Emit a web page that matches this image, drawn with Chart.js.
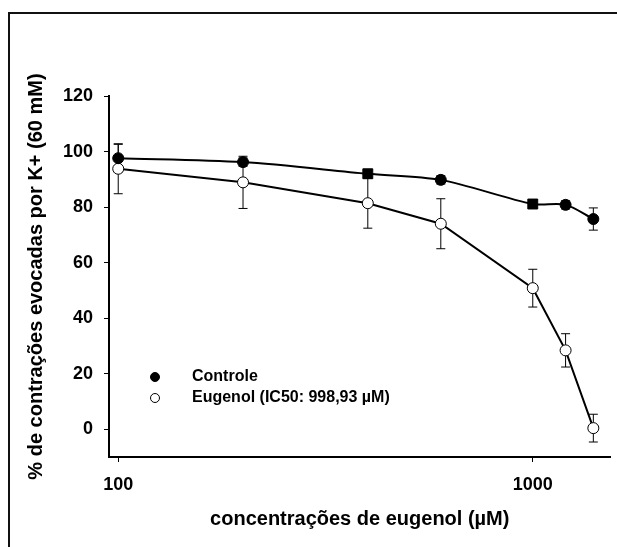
<!DOCTYPE html>
<html>
<head>
<meta charset="utf-8">
<script src="https://cdn.jsdelivr.net/npm/chart.js@4"></script>
<style>
  body { margin: 0; background: #fff; overflow: hidden; }
  #wrap { position: relative; width: 617px; height: 547px; }
  #frame { position: absolute; left: 8px; top: 12px; width: 700px; height: 700px;
           border-left: 2px solid #111; border-top: 2px solid #111; }
  canvas { position: absolute; left: 0; top: 0; }
</style>
</head>
<body>
<div id="wrap">
  <div id="frame"></div>
  <canvas id="chart" width="617" height="547"></canvas>
</div>
<script>
// concentrations (µM)
const concentrations = [100, 200, 400, 600, 1000, 1200, 1400];
const controle = [97.6, 96.2, 92, 89.8, 81.1, 80.8, 75.7];
const controleErr = [5, 1.5, 1.5, 1.5, 1.5, 1.5, 4];
const eugenol = [93.8, 88.9, 81.4, 74, 50.8, 28.4, 0.4];
const eugenolErr = [9, 9.4, 9, 9, 6.8, 6, 5];
const xTicks = [100, 1000];
const yTicks = [0, 20, 40, 60, 80, 100, 120];
const labels = ['Controle', 'Eugenol (IC50: 998,93 µM)'];

const FONT = "'Liberation Sans', Arial, sans-serif";

const errorBars = {
  id: 'errorBars',
  beforeDatasetsDraw(chart) {
    const ctx = chart.ctx;
    const y = chart.scales.y;
    const errs = [controleErr, eugenolErr];
    ctx.save();
    ctx.strokeStyle = '#000';
    ctx.lineWidth = 1;
    chart.data.datasets.forEach((ds, d) => {
      const meta = chart.getDatasetMeta(d);
      meta.data.forEach((pt, i) => {
        const v = ds.data[i].y;
        const top = y.getPixelForValue(v + errs[d][i]);
        const bot = y.getPixelForValue(v - errs[d][i]);
        ctx.beginPath();
        ctx.moveTo(pt.x, top); ctx.lineTo(pt.x, bot);
        ctx.moveTo(pt.x - 4.5, top); ctx.lineTo(pt.x + 4.5, top);
        ctx.moveTo(pt.x - 4.5, bot); ctx.lineTo(pt.x + 4.5, bot);
        ctx.stroke();
      });
    });
    ctx.restore();
  }
};

const legendBox = {
  id: 'legendBox',
  afterDraw(chart) {
    const ctx = chart.ctx;
    ctx.save();
    ctx.font = 'bold 16px ' + FONT;
    ctx.textBaseline = 'middle';
    ctx.fillStyle = '#000';
    const rows = [377, 398];
    rows.forEach((ry, i) => {
      ctx.beginPath();
      ctx.arc(155, ry, 4.5, 0, Math.PI * 2);
      ctx.fillStyle = i === 0 ? '#000' : '#fff';
      ctx.fill();
      ctx.lineWidth = 1;
      ctx.strokeStyle = '#000';
      ctx.stroke();
      ctx.fillStyle = '#000';
      ctx.fillText(labels[i], 192, ry);
    });
    ctx.restore();
  }
};

new Chart(document.getElementById('chart'), {
  type: 'line',
  data: {
    datasets: [
      {
        label: labels[0],
        data: concentrations.map((c, i) => ({ x: c, y: controle[i] })),
        borderColor: '#000',
        borderWidth: 2,
        tension: 0.3,
        pointStyle: ['circle', 'circle', 'rect', 'circle', 'rect', 'circle', 'circle'],
        pointRadius: [5.5, 5.5, 7, 5.5, 7, 5.5, 5.5],
        pointBackgroundColor: '#000',
        pointBorderColor: '#000',
        pointBorderWidth: 1
      },
      {
        label: labels[1],
        data: concentrations.map((c, i) => ({ x: c, y: eugenol[i] })),
        borderColor: '#000',
        borderWidth: 2,
        tension: 0,
        pointRadius: 5.5,
        pointBackgroundColor: '#fff',
        pointBorderColor: '#000',
        pointBorderWidth: 1
      }
    ]
  },
  options: {
    responsive: false,
    animation: false,
    devicePixelRatio: 1,
    layout: { padding: { top: 96, right: 4, left: 0, bottom: 0 } },
    plugins: { legend: { display: false }, tooltip: { enabled: false } },
    scales: {
      x: {
        type: 'logarithmic',
        min: 95,
        max: 1540,
        afterFit: s => { s.height = 90; },
        afterBuildTicks: s => { s.ticks = xTicks.map(v => ({ value: v })); },
        border: { display: true, color: '#000', width: 2 },
        grid: { drawOnChartArea: false, drawTicks: true, tickLength: 5, color: '#000' },
        ticks: {
          color: '#000', padding: 12, maxRotation: 0,
          font: { family: FONT, size: 18, weight: 'bold' },
          callback: v => String(v)
        },
        title: {
          display: true, text: 'concentrações de eugenol (µM)', color: '#000',
          font: { family: FONT, size: 20, weight: 'bold' },
          padding: { top: 0, bottom: 16 }
        }
      },
      y: {
        min: -10,
        max: 120,
        afterFit: s => { s.width = 109; },
        afterBuildTicks: s => { s.ticks = yTicks.map(v => ({ value: v })); },
        border: { display: true, color: '#000', width: 2 },
        grid: { drawOnChartArea: false, drawTicks: true, tickLength: 5, color: '#000' },
        ticks: {
          color: '#000', padding: 11,
          font: { family: FONT, size: 18, weight: 'bold' }
        },
        title: {
          display: true, text: '% de contrações evocadas por K+ (60 mM)', color: '#000',
          font: { family: FONT, size: 20, weight: 'bold' },
          padding: { top: 24, bottom: 0 }
        }
      }
    }
  },
  plugins: [errorBars, legendBox]
});
</script>
</body>
</html>
